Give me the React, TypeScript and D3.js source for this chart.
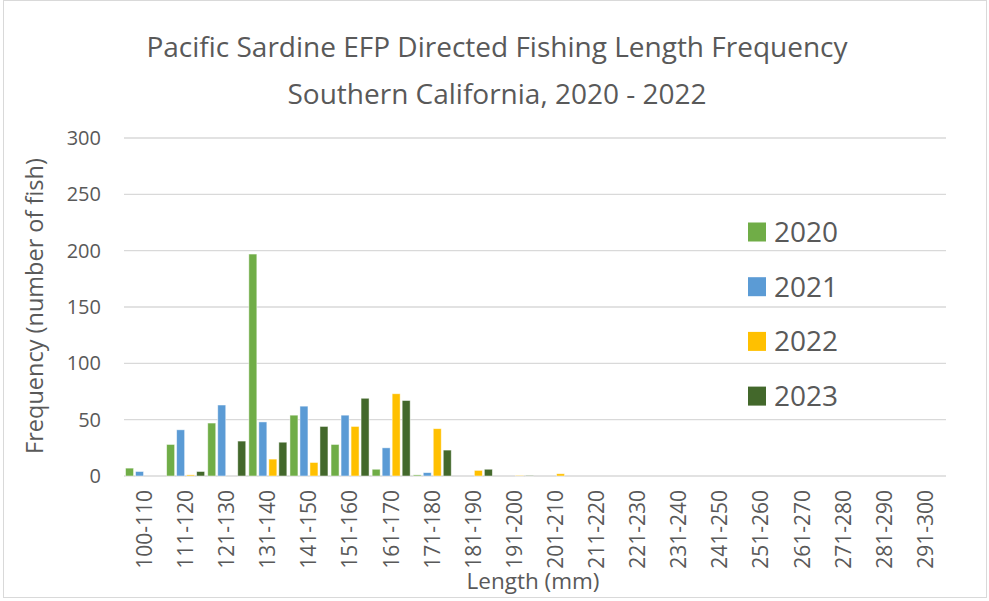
import * as React from "react";
import * as d3 from "d3";

const categories = [
  "100-110", "111-120", "121-130", "131-140", "141-150", "151-160", "161-170",
  "171-180", "181-190", "191-200", "201-210", "211-220", "221-230", "231-240",
  "241-250", "251-260", "261-270", "271-280", "281-290", "291-300",
];
const years = ["2020", "2021", "2022", "2023"];
const colors = ["#70AD47", "#5B9BD5", "#FFC000", "#43682B"];

const freq2020 = [7, 28, 47, 197, 54, 28, 6, 1, 0, 0, 0, 0, 0, 0, 0, 0, 0, 0, 0, 0];
const freq2021 = [4, 41, 63, 48, 62, 54, 25, 3, 0, 0, 0, 0, 0, 0, 0, 0, 0, 0, 0, 0];
const freq2022 = [0, 1, 0, 15, 12, 44, 73, 42, 5, 0.5, 2, 0, 0, 0, 0, 0, 0, 0, 0, 0];
const freq2023 = [0, 4, 31, 30, 44, 69, 67, 23, 6, 0.5, 0, 0, 0, 0, 0, 0, 0, 0, 0, 0];
const yTicks = [0, 50, 100, 150, 200, 250, 300];

const W = 989;
const H = 601;
const FONT = "'Open Sans', 'Noto Sans', sans-serif";
const TXT = "#595959";

export default function App() {
  const series = [freq2020, freq2021, freq2022, freq2023];

  // outer band per length class, inner band per year
  const x = d3.scaleBand().domain(categories).range([124, 946]).paddingInner(0.075).paddingOuter(0.0375);
  const xs = d3.scaleBand().domain(years).range([0, x.bandwidth()]).paddingInner(0.2);
  const y = d3.scaleLinear().domain([0, 300]).range([476, 138]);

  return (
    <svg width={W} height={H} style={{ position: "absolute", left: 0, top: 0, background: "#fff" }} fontFamily={FONT}>
      <rect x={3.5} y={0.5} width={983} height={597} fill="#fff" stroke="#d9d9d9" />

      <text x={497} y={57} textAnchor="middle" fontSize={28} fill={TXT}>
        Pacific Sardine EFP Directed Fishing Length Frequency
      </text>
      <text x={497} y={104} textAnchor="middle" fontSize={28} fill={TXT}>
        Southern California, 2020 - 2022
      </text>

      {yTicks.map((t) => (
        <g key={t}>
          <line x1={124} x2={946} y1={y(t)} y2={y(t)} stroke="#d9d9d9" strokeWidth={1.3} />
          <text x={101} y={y(t)} dy="0.35em" textAnchor="end" fontSize={20} fill={TXT}>
            {t}
          </text>
        </g>
      ))}

      {series.map((vals, si) =>
        vals.map((v, ci) =>
          v > 0 ? (
            <rect
              key={`${si}-${ci}`}
              x={(x(categories[ci]) as number) + (xs(years[si]) as number)}
              y={y(v)}
              width={xs.bandwidth()}
              height={y(0) - y(v)}
              fill={colors[si]}
              stroke="#ffffff"
              strokeOpacity={0.6}
              strokeWidth={0.8}
            />
          ) : null
        )
      )}

      {categories.map((c) => {
        const cx = (x(c) as number) + x.bandwidth() / 2;
        return (
          <text
            key={c}
            transform={`translate(${cx},490) rotate(-90)`}
            dy="0.35em"
            textAnchor="end"
            fontSize={21}
            fill={TXT}
          >
            {c}
          </text>
        );
      })}

      <text transform="translate(35,306) rotate(-90)" dy="0.35em" textAnchor="middle" fontSize={23.5} fill={TXT}>
        Frequency (number of fish)
      </text>
      <text x={533} y={589} textAnchor="middle" fontSize={22.5} fill={TXT}>
        Length (mm)
      </text>

      {years.map((yr, i) => {
        const cy = 232 + i * 54.7;
        return (
          <g key={yr}>
            <rect x={748} y={cy - 9.5} width={18} height={19} fill={colors[i]} />
            <text x={774} y={cy} dy="0.36em" fontSize={28} fill={TXT}>
              {yr}
            </text>
          </g>
        );
      })}
    </svg>
  );
}
